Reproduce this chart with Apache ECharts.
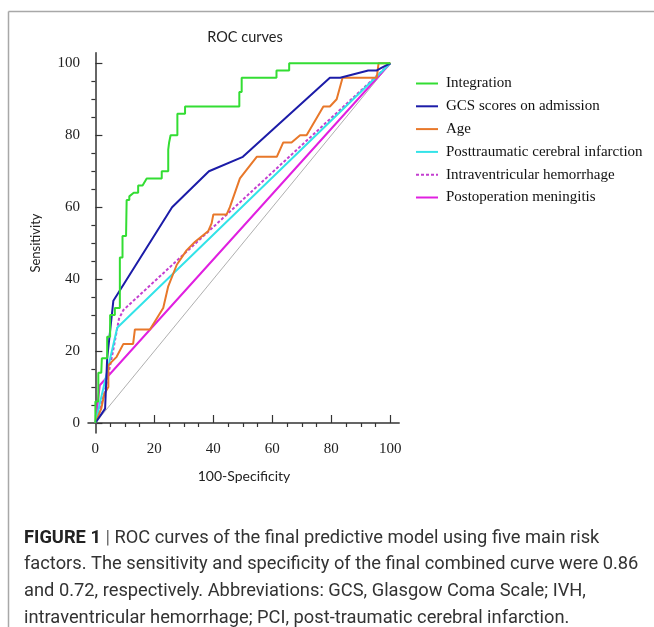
<!DOCTYPE html>
<html><head><meta charset="utf-8">
<script src="https://cdn.jsdelivr.net/npm/echarts@6/dist/echarts.min.js"></script>
<style>html,body{margin:0;padding:0;background:#fff}#c{width:654px;height:627px}</style>
</head><body><div id="c"></div>
<script>
// ---- data ----
const seriesNames = ['Integration','GCS scores on admission','Age','Posttraumatic cerebral infarction','Intraventricular hemorrhage','Postoperation meningitis'];
const integration = [[0,0],[0,6],[1,6],[1,14],[2,14],[2.2,18],[4,18],[4,24],[5,24],[5,30],[6.6,30],[6.6,32],[8.3,32],[8.3,46],[9.2,46],[9.2,52],[10.4,52],[10.6,62],[11.5,62],[11.5,63],[13,64],[14.5,64],[14.5,66],[16,66],[17.4,68],[22.5,68],[22.5,70],[24.7,70],[24.7,76],[25,78],[25.5,80],[27.8,80],[27.8,86],[30.4,86],[30.4,88],[48.8,88],[48.8,92],[49.6,92],[49.6,96],[61.4,96],[61.4,98],[65.7,98],[65.7,100],[100,100]];
const gcs = [[0,0],[3.3,4],[4,18],[6.1,34],[26,60],[38.5,70],[50,74],[79.5,96],[83,96],[92.5,98],[95.4,98],[97.6,99],[100,100]];
const age = [[0,0],[2,4],[3,8],[4.4,10],[4.4,16],[5.5,17],[7.2,18.4],[9.5,22],[12.8,22],[13.4,26],[18.5,26],[23,32],[24.7,38],[27.6,44],[30.9,48],[33.8,50.4],[38.3,53.4],[39.4,55.5],[40,58],[44.5,58],[45.6,60],[49,68],[54.7,74],[61.5,74],[63.7,78],[66.5,78],[69.4,80],[71.6,80],[77.3,88],[79.5,88],[81.8,90],[83.8,96],[95.4,96],[96,100],[100,100]];
const pci = [[0,0],[7.4,26.5],[100,100]];
const ivh = [[0,0],[3,8],[6,20],[8,29],[9.5,31.4],[100,100]];
const meningitis = [[0,0],[1.5,10.5],[100,100]];
const reference = [[0,0],[100,100]];
const xMajorTicks = [0,20,40,60,80,100];
const xMinorTicks = [5,10,15,25,30,35,45,50,55,65,70,75,85,90,95];
const yMajorTicks = [0,20,40,60,80,100];
const yMinorTicks = [5,10,15,25,30,35,45,50,55,65,70,75,85,90,95];
const captionLines = [
  'ROC curves of the final predictive model using five main risk',
  'factors. The sensitivity and specificity of the final combined curve were 0.86',
  'and 0.72, respectively. Abbreviations: GCS, Glasgow Coma Scale; IVH,',
  'intraventricular hemorrhage; PCI, post-traumatic cerebral infarction.'
];

const colors = ['#33dd33','#1c1ca8','#e8782a','#33e3e8','#c43fd0','#e020e0'];
const datasets = [integration, gcs, age, pci, ivh, meningitis];
const serif = '"Liberation Serif", "Times New Roman", serif';
const axisCol = '#333';

const chart = echarts.init(document.getElementById('c'), null, {renderer:'canvas'});

const series = datasets.map((d,i)=>({
  name: seriesNames[i], type:'line', data:d, symbol:'none', animation:false,
  lineStyle:{color:colors[i], width:2, type: i===4 ? [3,2] : 'solid'},
  itemStyle:{color:colors[i]}, z: 10 - i
}));
series.push({name:'ref', type:'line', data:reference, symbol:'none', animation:false,
  lineStyle:{color:'#9a9a9a', width:0.8}, z:1, silent:true});

const baseX = {type:'value', min:-2.5, max:103, gridIndex:0, splitLine:{show:false}};
const baseY = {type:'value', min:-2.8, max:102.9, gridIndex:0, splitLine:{show:false}};

const capFont = 18.3;
const caption = [];
captionLines.forEach((t,i)=>{
  caption.push({type:'text', left:24, top:529 + i*26.8, style:{
    text: i===0 ? '{b|FIGURE 1} {s|| }' + t : t,
    font: capFont + 'px Roboto, "Liberation Sans", sans-serif', fill:'#333',
    rich:{b:{fontWeight:'bold', fontFamily:'Roboto', fontSize:capFont, fill:'#222'}, s:{fontSize:capFont, fill:'#666', fontFamily:'Roboto'}}
  }});
});

chart.setOption({
  animation:false,
  backgroundColor:'#fff',
  grid:{left:88, right:254.8, top:52.86, bottom:193.9, containLabel:false},
  xAxis:[
    Object.assign({}, baseX, {
      axisLine:{show:true, lineStyle:{color:axisCol, width:1.5}},
      axisTick:{show:true, inside:true, length:8, lineStyle:{color:axisCol, width:1.2}, customValues:xMajorTicks},
      axisLabel:{show:true, margin:8, fontFamily:serif, fontSize:15, color:'#222', customValues:xMajorTicks}
    }),
    Object.assign({}, baseX, {
      axisLine:{show:false},
      axisTick:{show:true, inside:true, length:4, lineStyle:{color:axisCol, width:1.2}, customValues:xMinorTicks},
      axisLabel:{show:false}
    })
  ],
  yAxis:[
    Object.assign({}, baseY, {
      axisLine:{show:true, lineStyle:{color:axisCol, width:1.5}},
      axisTick:{show:true, inside:true, length:7, lineStyle:{color:axisCol, width:1.2}, customValues:yMajorTicks},
      axisLabel:{show:true, margin:8, fontFamily:serif, fontSize:15, color:'#222', customValues:yMajorTicks}
    }),
    Object.assign({}, baseY, {
      axisLine:{show:false},
      axisTick:{show:true, inside:true, length:4, lineStyle:{color:axisCol, width:1.2}, customValues:yMinorTicks},
      axisLabel:{show:false}
    })
  ],
  legend:{
    data: seriesNames, orient:'vertical', left:415, top:76, padding:0,
    itemWidth:22, itemHeight:14, itemGap:7.8,
    itemStyle:{opacity:0},
    textStyle:{fontFamily:serif, fontSize:15, color:'#111', padding:[0,0,0,3]}
  },
  series: series,
  graphic:[
    {type:'line', shape:{x1:8.5, y1:11.5, x2:654, y2:11.5}, style:{stroke:'#a8a8a8', lineWidth:1.5}},
    {type:'line', shape:{x1:8.5, y1:11.5, x2:8.5, y2:627}, style:{stroke:'#a8a8a8', lineWidth:1.5}},
    {type:'text', x:245, y:37, style:{text:'ROC curves', font:'14.5px Lato, sans-serif', fill:'#222', textAlign:'center', textVerticalAlign:'middle'}},
    {type:'text', x:244, y:476, style:{text:'100-Specificity', font:'14px Lato, sans-serif', fill:'#222', textAlign:'center', textVerticalAlign:'middle'}},
    {type:'text', x:36, y:243, rotation:Math.PI/2, style:{text:'Sensitivity', font:'13px Lato, sans-serif', fill:'#222', textAlign:'center', textVerticalAlign:'middle'}},
    ...caption
  ]
});
</script>
</body></html>
